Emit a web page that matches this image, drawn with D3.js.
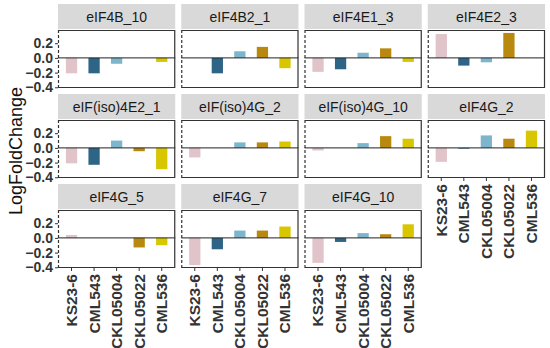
<!DOCTYPE html>
<html lang="en">
<head>
<meta charset="utf-8">
<title>LogFoldChange facets</title>
<script src="https://cdnjs.cloudflare.com/ajax/libs/d3/7.8.5/d3.min.js"></script>
<style>
  body { margin: 0; background: #fff; }
  text { font-family: "Liberation Sans", Arial, sans-serif; }
  .tick text { font-weight: bold; fill: #333; font-size: 14px; }
  .xaxis .tick text { font-size: 15.5px; }
  .strip text { font-size: 14px; fill: #1a1a1a; }
</style>
</head>
<body>
<script>
// samples (x categories)
var samples = ["KS23-6", "CML543", "CKL05004", "CKL05022", "CML536"];
// panel names, in facet order
var genes = ["eIF4B_10", "eIF4B2_1", "eIF4E1_3", "eIF4E2_3",
             "eIF(iso)4E2_1", "eIF(iso)4G_2", "eIF(iso)4G_10", "eIF4G_2",
             "eIF4G_5", "eIF4G_7", "eIF4G_10"];
// log fold change per panel, same order as samples
var eIF4B_10      = [-0.21, -0.21, -0.08,  0.00, -0.055];
var eIF4B2_1      = [ 0.00, -0.21,  0.09,  0.15, -0.14];
var eIF4E1_3      = [-0.19, -0.155, 0.07,  0.13, -0.055];
var eIF4E2_3      = [ 0.325,-0.105,-0.06,  0.34,  0.00];
var eIFiso4E2_1   = [-0.21, -0.23,  0.10, -0.045,-0.29];
var eIFiso4G_2    = [-0.13,  0.00,  0.075, 0.075, 0.087];
var eIFiso4G_10   = [-0.035, 0.00,  0.065, 0.16,  0.125];
var eIF4G_2       = [-0.19, -0.01,  0.17,  0.125, 0.235];
var eIF4G_5       = [ 0.04,  0.00,  0.00, -0.13, -0.10];
var eIF4G_7       = [-0.37, -0.155, 0.10,  0.10,  0.155];
var eIF4G_10      = [-0.34, -0.055, 0.065, 0.05,  0.185];
var yTicks = [0.2, 0.0, -0.2, -0.4];

var values = [eIF4B_10, eIF4B2_1, eIF4E1_3, eIF4E2_3,
              eIFiso4E2_1, eIFiso4G_2, eIFiso4G_10, eIF4G_2,
              eIF4G_5, eIF4G_7, eIF4G_10];

var colors = ["#e0c4ca", "#2e6586", "#7db5cc", "#b8880f", "#d8c600"];

var width = 550, height = 348;
var margin = {top: 4, left: 58, right: 5};
var gap = 6, ncol = 4;
var pw = (width - margin.right - margin.left - gap * (ncol - 1)) / ncol;
var stripH = 25, ph = 58, rowPitch = 90;

var svg = d3.select("body").append("svg")
  .attr("width", width)
  .attr("height", height);

var x = d3.scaleBand()
  .domain(samples)
  .range([0, pw])
  .paddingInner(0.5)
  .paddingOuter(0.35);

var lo = -0.374, hi = 0.344, ex = (hi - lo) * 0.05;
var y = d3.scaleLinear()
  .domain([lo - ex, hi + ex])
  .range([ph, 0]);

var color = d3.scaleOrdinal().domain(samples).range(colors);

genes.forEach(function(g, i) {
  var col = i % ncol, row = Math.floor(i / ncol);
  var px = margin.left + col * (pw + gap);
  var sy = margin.top + row * rowPitch;
  var py = sy + stripH + 1;

  var strip = svg.append("g").attr("class", "strip")
    .attr("transform", "translate(" + px + "," + sy + ")");
  strip.append("rect")
    .attr("width", pw).attr("height", stripH)
    .attr("fill", "#d9d9d9");
  strip.append("text")
    .attr("x", pw / 2).attr("y", stripH / 2 + 5)
    .attr("text-anchor", "middle")
    .text(g);

  var p = svg.append("g")
    .attr("transform", "translate(" + px + "," + py + ")");

  var data = samples.map(function(s, j) { return {s: s, v: values[i][j]}; });

  p.selectAll("rect.bar")
    .data(data)
    .enter().append("rect")
    .attr("class", "bar")
    .attr("x", function(d) { return x(d.s); })
    .attr("width", x.bandwidth())
    .attr("y", function(d) { return y(Math.max(0, d.v)); })
    .attr("height", function(d) { return Math.abs(y(d.v) - y(0)); })
    .attr("fill", function(d) { return color(d.s); });

  // zero line
  p.append("line")
    .attr("x1", 0).attr("x2", pw)
    .attr("y1", y(0)).attr("y2", y(0))
    .attr("stroke", "#222").attr("stroke-width", 1);

  // panel border, left edge dashed
  p.append("path")
    .attr("d", "M0.5,0.5H" + (pw - 0.5) + "V" + (ph - 0.5) + "H0.5")
    .attr("fill", "none").attr("stroke", "#333").attr("stroke-width", 1.2);
  p.append("line")
    .attr("x1", 0.5).attr("x2", 0.5).attr("y1", 0).attr("y2", ph)
    .attr("stroke", "#333").attr("stroke-width", 1.2)
    .attr("stroke-dasharray", "3,2");

  if (col === 0) {
    var ya = p.append("g")
      .call(d3.axisLeft(y).tickValues(yTicks).tickFormat(d3.format(".1f")).tickSize(3).tickPadding(2));
    ya.select(".domain").remove();
    ya.selectAll(".tick line").attr("stroke", "#333");
  }

  // x axis only on the bottom panel of each column
  var last = (row === 2) || (row === 1 && col === 3);
  if (last) {
    var xa = p.append("g").attr("class", "xaxis")
      .attr("transform", "translate(0," + ph + ")")
      .call(d3.axisBottom(x).tickSize(3).tickPadding(2));
    xa.select(".domain").remove();
    xa.selectAll(".tick line").attr("stroke", "#333");
    xa.selectAll(".tick text")
      .attr("transform", "rotate(-90)")
      .attr("text-anchor", "end")
      .attr("x", -6)
      .attr("y", 0)
      .attr("dy", "0.35em");
  }
});

svg.append("text")
  .attr("transform", "translate(22," + 151 + ") rotate(-90)")
  .attr("text-anchor", "middle")
  .attr("font-size", 18)
  .attr("fill", "#111")
  .text("LogFoldChange");
</script>
</body>
</html>
